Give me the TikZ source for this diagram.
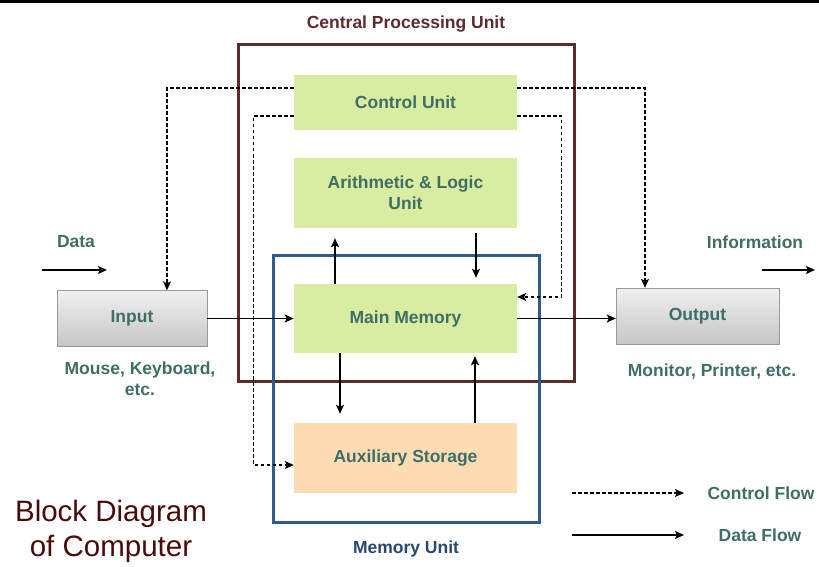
\documentclass[tikz,border=0pt]{standalone}
\usepackage{fontspec}
\setmainfont{Liberation Sans}
\usepackage{xcolor}
\definecolor{UnitGreen}{HTML}{D9EDA2}
\definecolor{AuxPeach}{HTML}{FDDCB4}
\definecolor{CPUred}{HTML}{5C2B2B}
\definecolor{MUblue}{HTML}{2F5B8C}
\definecolor{LabelTeal}{HTML}{3E6E66}
\definecolor{TitleRed}{HTML}{4A0A0A}
\usetikzlibrary{arrows.meta}
\newcommand*{\mylabelstyle}{\fontsize{17.5}{21}\selectfont\bfseries}
\newcommand*{\mytitlestyle}{\fontsize{29.5}{35}\selectfont}

\begin{document}
\begin{tikzpicture}[x=1pt, y=-1pt,
  unit/.style = {fill = UnitGreen, minimum width = 223pt, align = center,
    font = \mylabelstyle, text = LabelTeal},
  iobox/.style = {draw = gray!80, top color = gray!12, bottom color = gray!45,
    minimum height = 56pt, font = \mylabelstyle, text = LabelTeal},
  note/.style = {font = \mylabelstyle, text = LabelTeal, align = center},
  dataflow/.style = {line width = 1.5pt, -{Stealth[length = 9pt, width = 8pt, inset = 2pt]}},
  ctrlflow/.style = {line width = 1.1pt, dash pattern = on 3.5pt off 2.5pt,
    -{Stealth[length = 9pt, width = 8pt, inset = 2pt]}}]
  \useasboundingbox (0,0) rectangle (819,567);
  \draw[line width = 3pt] (0,2) -- (819,2);

  % the two frames
  \node[draw = CPUred, line width = 3pt, minimum width = 336pt, minimum height = 336pt,
    label = {[text = CPUred, font = \mylabelstyle, label distance = 8pt]above:Central Processing Unit}]
    (cpu) at (406,213) {};
  \node[draw = MUblue, line width = 3pt, minimum width = 266pt, minimum height = 267pt,
    label = {[text = MUblue!80!black, font = \mylabelstyle, label distance = 14pt]below:Memory Unit}]
    (mu) at (406,388.5) {};

  \node[unit, minimum height = 55pt] (cu) at (405.5,102.5) {Control Unit};
  \node[unit, minimum height = 70pt] (alu) at (405.5,193) {Arithmetic \& Logic\\Unit};
  \node[unit, minimum height = 69pt] (mm) at (405.5,318.5) {Main Memory};
  \node[unit, minimum height = 70pt, fill = AuxPeach] (aux) at (405.5,458) {Auxiliary Storage};

  \node[iobox, minimum width = 150pt] (in) at (132,318.5) {Input};
  \node[iobox, minimum width = 163pt] (out) at (697.5,316) {Output};
  \node[note] (indev) at (140,379) {Mouse, Keyboard,\\etc.};
  \node[note] (outdev) at (712,372) {Monitor, Printer, etc.};

  \node[note] (data) at (76,242) {Data};
  \node[note] (info) at (755,242) {Information};
  \coordinate (d0) at (42,270);   \coordinate (d1) at (107,270);
  \coordinate (i0) at (762,270);  \coordinate (i1) at (815,270);
  \draw[dataflow] (d0) -- (d1);
  \draw[dataflow] (i0) -- (i1);

  % data flow
  \draw[dataflow] (in) -- (mm);
  \draw[dataflow] (mm.east) -- (mm.east -| out.west);
  \draw[dataflow] ([xshift = -70.5pt]mm.north) -- ([xshift = -70.5pt, yshift = -10pt]alu.south);
  \draw[dataflow] ([xshift = 70.5pt, yshift = -5pt]alu.south) -- ([xshift = 70.5pt, yshift = 6pt]mm.north);
  \draw[dataflow] ([xshift = -65.5pt]mm.south) -- ([xshift = -65.5pt, yshift = 9pt]aux.north);
  \draw[dataflow] ([xshift = 69.5pt]aux.north) -- ([xshift = 69.5pt, yshift = -3pt]mm.south);

  % control flow
  \draw[ctrlflow] ([yshift = 14.5pt]cu.west) -| ([xshift = 35pt]in.north);
  \draw[ctrlflow] ([yshift = 14.5pt]cu.east) -| ([xshift = -52.5pt]out.north);
  \draw[ctrlflow] ([yshift = -13.5pt]cu.west) -- ++(-40,0) |- ([yshift = -7pt]aux.west);
  \draw[ctrlflow] ([yshift = -13.5pt]cu.east) -- ++(44,0) |- ([yshift = 21.5pt]mm.east);

  % legend and title
  \coordinate (c0) at (572,493);  \coordinate (c1) at (684,493);
  \coordinate (f0) at (572,535);  \coordinate (f1) at (684,535);
  \draw[ctrlflow] (c0) -- (c1);
  \draw[dataflow] (f0) -- (f1);
  \node[note] (ctrlkey) at (761,493) {Control Flow};
  \node[note] (datakey) at (760,535) {Data Flow};
  \node[font = \mytitlestyle, text = TitleRed, align = center] (title) at (111,531)
    {Block Diagram\\of Computer};
\end{tikzpicture}
\end{document}
